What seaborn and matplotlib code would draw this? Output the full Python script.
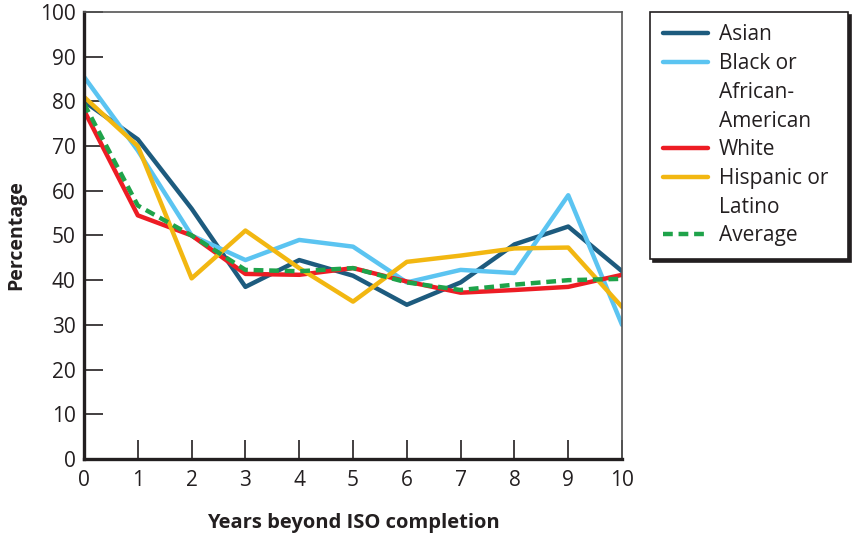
import pandas as pd
import matplotlib.pyplot as plt
import seaborn as sns
from matplotlib.lines import Line2D

# data
years = [0, 1, 2, 3, 4, 5, 6, 7, 8, 9, 10]
asian = [80, 71.5, 56, 38.5, 44.5, 41, 34.5, 39.5, 48, 52, 42]
black = [85.5, 69, 50, 44.5, 49, 47.5, 39.5, 42.3, 41.6, 59, 30]
white = [78, 54.5, 50, 41.4, 41.2, 42.7, 39.7, 37.2, 37.8, 38.5, 41.2]
hispanic = [81, 70, 40.4, 51.1, 42.7, 35.2, 44.1, 45.5, 47.1, 47.3, 34]
average = [79.5, 56.7, 50, 42.3, 42, 42.7, 39.5, 37.8, 39, 40, 40.3]

series = {
    "Asian": (asian, "#1D5B7E"),
    "Black or African-American": (black, "#5BC4F1"),
    "White": (white, "#ED1C24"),
    "Hispanic or Latino": (hispanic, "#F2B711"),
    "Average": (average, "#1FA34A"),
}

sns.set_style("white")
plt.rcParams['font.family'] = ['Open Sans', 'DejaVu Sans']

fig = plt.figure(figsize=(8.52, 5.37), dpi=100)
ax = fig.add_axes([0.0986, 0.1453, 0.6315, 0.8324])

for name, (vals, color) in series.items():
    df = pd.DataFrame({"year": years, "pct": vals})
    sns.lineplot(data=df, x="year", y="pct", ax=ax, color=color, lw=3.2,
                 label=name)
    if name == "Average":
        ax.lines[-1].set_dashes((2.2, 1.3))
        ax.lines[-1].set_dash_capstyle('butt')

ax.set_xlim(0, 10)
ax.set_ylim(0, 100)
ax.set_xticks(range(0, 11))
ax.set_yticks(range(0, 101, 10))
ax.tick_params(axis="both", direction="in", length=14, width=1.2,
               color="#231F20", labelsize=15, labelcolor="#231F20", pad=6,
               left=True, bottom=True)
ax.tick_params(axis="x", pad=8)

for side in ["left", "bottom"]:
    ax.spines[side].set_linewidth(2.4)
    ax.spines[side].set_color("#231F20")
for side in ["top", "right"]:
    ax.spines[side].set_linewidth(1.2)
    ax.spines[side].set_color("#555555")

ax.set_xlabel("Years beyond ISO completion", fontsize=14.5, fontweight="bold",
              color="#231F20", labelpad=16)
ax.set_ylabel("Percentage", fontsize=14, fontweight="bold",
              color="#231F20", labelpad=10)

# legend: split multi-line labels into rows with blank handles
handles, labels = ax.get_legend_handles_labels()
blank = Line2D([], [], color="none")
h = {l: hd for hd, l in zip(handles, labels)}
leg_handles = [h["Asian"], h["Black or African-American"], blank, blank,
               h["White"], h["Hispanic or Latino"], blank, h["Average"]]
leg_labels = ["Asian", "Black or", "African-", "American", "White",
              "Hispanic or", "Latino", "Average"]
ax.legend(leg_handles, leg_labels, loc="upper left",
          bbox_to_anchor=(650 / 852, 1 - 258 / 537, 198 / 852, 246 / 537),
          bbox_transform=fig.transFigure, mode="expand", borderaxespad=0,
          fontsize=15, labelspacing=0.37, handlelength=2.2, handletextpad=0.5,
          borderpad=0.6, fancybox=False, edgecolor="#231F20",
          framealpha=1, shadow={"color": "#231F20", "alpha": 1},
          labelcolor="#231F20")
ax.get_legend().get_frame().set_linewidth(1.2)

fig.savefig("out.png", dpi=100)
